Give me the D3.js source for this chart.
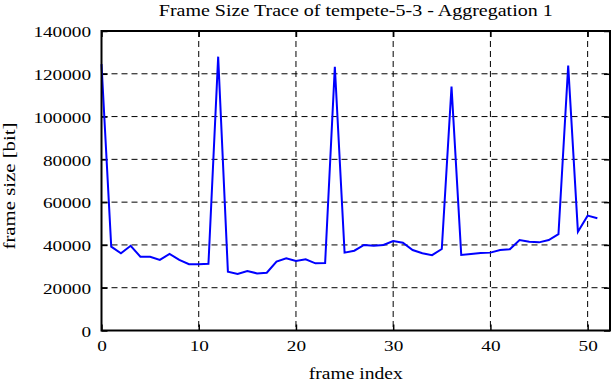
<!DOCTYPE html>
<html>
<head>
<meta charset="utf-8">
<script src="https://cdn.jsdelivr.net/npm/d3@7"></script>
<style>
  body { margin: 0; background: #fff; }
  text { font-family: "Liberation Serif", "Times New Roman", serif; fill: #000; }
</style>
</head>
<body>
<svg id="chart" width="612" height="382"></svg>
<script>
// frame sizes in bit, frame index 0..51
const frameSizes = [
  124500, 39200, 36100, 39600, 34500, 34500, 33000, 35800, 33000, 31000,
  31000, 31200, 128000, 27500, 26400, 27800, 26700, 27000, 32200, 33800,
  32500, 33300, 31400, 31500, 123300, 36400, 37300, 40000, 39600, 40000,
  41800, 41000, 37600, 36100, 35200, 38100, 114000, 35300, 35800, 36200,
  36400, 37600, 38000, 42300, 41500, 41200, 42300, 45000, 123800, 46200,
  53700, 52500
];
const xTicks = [0, 10, 20, 30, 40, 50];
const yTicks = [0, 20000, 40000, 60000, 80000, 100000, 120000, 140000];

const svg = d3.select('#chart');
const margin = { left: 101.5, right: 2, top: 31, bottom: 51.5 };
const width = 612 - margin.left - margin.right;
const height = 382 - margin.top - margin.bottom;

const x = d3.scaleLinear().domain([0, 52.3]).range([0, width]);
const y = d3.scaleLinear().domain([0, 140000]).range([height, 0]);

// the original font is wide, stretch text horizontally to match
const stretch = (sel, w) => sel
  .attr('textLength', w)
  .attr('lengthAdjust', 'spacingAndGlyphs');

const g = svg.append('g').attr('transform', `translate(${margin.left},${margin.top})`);

// dashed grid
g.selectAll('.vgrid')
  .data(xTicks.filter(d => d > 0))
  .enter().append('line')
  .attr('x1', d => x(d)).attr('x2', d => x(d))
  .attr('y1', 0).attr('y2', height)
  .attr('stroke', '#000').attr('stroke-width', 1)
  .attr('stroke-dasharray', '6,4');

g.selectAll('.hgrid')
  .data(yTicks.filter(d => d > 0 && d < 140000))
  .enter().append('line')
  .attr('x1', 0).attr('x2', width)
  .attr('y1', d => y(d)).attr('y2', d => y(d))
  .attr('stroke', '#000').attr('stroke-width', 1)
  .attr('stroke-dasharray', '6,4');

// axes with inward ticks, mirrored on top and right
const tickLen = -6;
const fmt = d3.format('d');
const gx = g.append('g').attr('transform', `translate(0,${height})`)
  .call(d3.axisBottom(x).tickValues(xTicks).tickSizeInner(tickLen).tickSizeOuter(0).tickFormat(fmt));
const gy = g.append('g')
  .call(d3.axisLeft(y).tickValues(yTicks).tickSizeInner(tickLen).tickSizeOuter(0).tickFormat(fmt));
g.append('g')
  .call(d3.axisTop(x).tickValues(xTicks).tickSizeInner(tickLen).tickSizeOuter(0).tickFormat(''));
g.append('g').attr('transform', `translate(${width},0)`)
  .call(d3.axisRight(y).tickValues(yTicks).tickSizeInner(tickLen).tickSizeOuter(0).tickFormat(''));

g.selectAll('.domain').remove();
g.selectAll('g').attr('font-family', null).attr('font-size', null);
g.selectAll('.tick line').attr('stroke', '#000').attr('stroke-width', 1.5);

gx.selectAll('text')
  .attr('y', 20.5).attr('dy', null)
  .style('font-size', '15px')
  .each(function(d) { stretch(d3.select(this), 9.6 * fmt(d).length); });
gy.selectAll('text')
  .attr('x', -10.5).attr('dy', '0.38em')
  .style('font-size', '15px')
  .each(function(d) { stretch(d3.select(this), 9.6 * fmt(d).length); });

// line
const line = d3.line()
  .x((d, i) => x(i))
  .y(d => y(d));

g.append('path')
  .datum(frameSizes)
  .attr('fill', 'none')
  .attr('stroke', '#0000ff')
  .attr('stroke-width', 2)
  .attr('d', line);

// frame
g.append('rect')
  .attr('width', width).attr('height', height)
  .attr('fill', 'none').attr('stroke', '#000').attr('stroke-width', 2);

// labels
svg.append('text')
  .attr('x', margin.left + width / 2).attr('y', 16)
  .attr('text-anchor', 'middle').style('font-size', '17px')
  .text('Frame Size Trace of tempete-5-3 - Aggregation 1')
  .call(stretch, 394);

svg.append('text')
  .attr('x', margin.left + width / 2).attr('y', 379)
  .attr('text-anchor', 'middle').style('font-size', '16px')
  .text('frame index')
  .call(stretch, 94);

svg.append('text')
  .attr('transform', 'translate(15,186) rotate(-90)')
  .attr('text-anchor', 'middle').style('font-size', '16px')
  .text('frame size [bit]')
  .call(stretch, 127);
</script>
</body>
</html>
